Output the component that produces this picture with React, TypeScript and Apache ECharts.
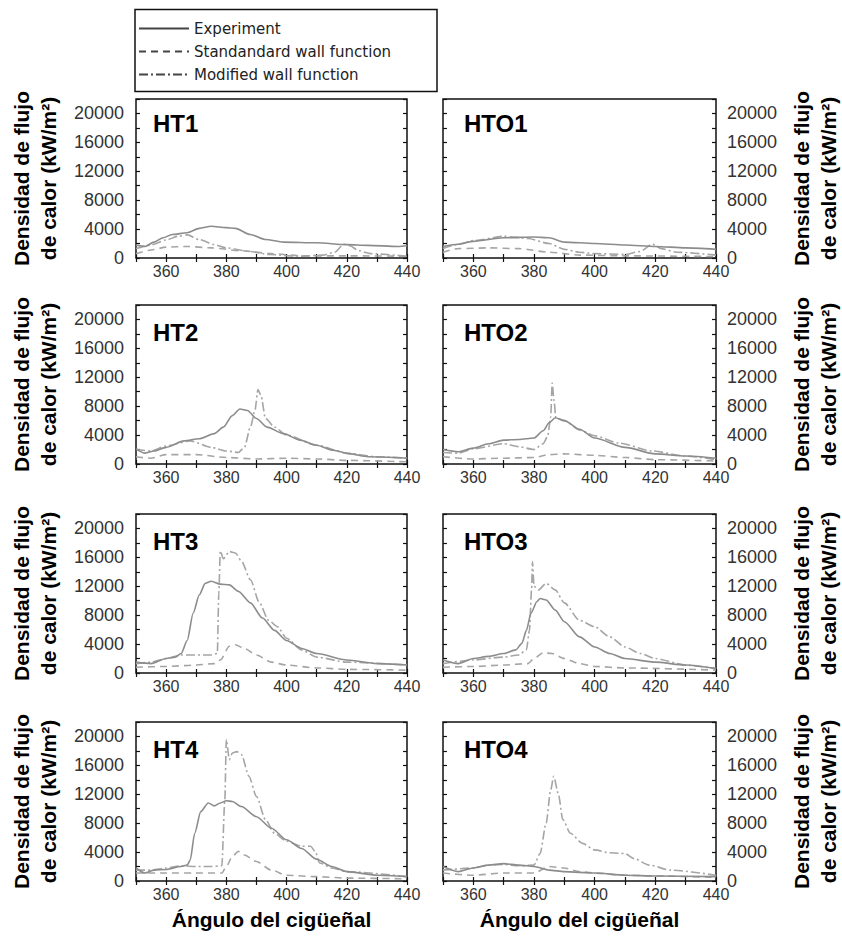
import React, { useEffect, useRef } from "react";
import * as echarts from "echarts";

type Pt = [number, number];

// ---- data ----
const SERIES_NAMES = ["Experiment", "Standandard wall function", "Modified wall function"];
const PANEL_NAMES = ["HT1", "HTO1", "HT2", "HTO2", "HT3", "HTO3", "HT4", "HTO4"];
const X_TICK_LABELS = [360, 380, 400, 420, 440];
const Y_TICK_LABELS = [0, 4000, 8000, 12000, 16000, 20000];
const Y_AXIS_TITLE = "Densidad de flujo\nde calor (kW/m²)";
const X_AXIS_TITLE = "Ángulo del cigüeñal";

const HT1_EXP: Pt[] = [[350,1800],[353,1600],[356,2200],[359,2800],[362,3250],[367,3500],[371,4100],[375,4400],[380,4200],[383,4100],[388,3250],[393,2550],[399,2200],[410,2100],[420,1850],[427,1750],[437,1600],[440,1700]];
const HT1_STD: Pt[] = [[350,600],[355,1100],[360,1500],[367,1600],[375,1400],[385,1000],[395,600],[405,300],[420,300],[440,250]];
const HT1_MOD: Pt[] = [[350,1300],[355,1800],[360,2500],[364,3000],[367,3200],[371,2550],[376,1850],[380,1400],[388,900],[394,500],[404,250],[412,400],[416,800],[419,1900],[421,1700],[424,1000],[428,600],[440,250]];

const HTO1_EXP: Pt[] = [[350,1600],[355,1900],[360,2300],[370,2800],[380,2900],[385,2800],[390,2200],[400,2000],[410,1800],[420,1600],[430,1400],[440,1200]];
const HTO1_STD: Pt[] = [[350,800],[355,1300],[365,1400],[375,1300],[385,800],[395,400],[410,300],[440,200]];
const HTO1_MOD: Pt[] = [[350,1300],[355,1900],[360,2400],[370,3000],[378,2700],[385,2000],[390,1200],[395,800],[400,600],[410,500],[415,900],[419,1900],[422,1300],[427,800],[440,400]];

const HT2_EXP: Pt[] = [[350,2100],[353,1500],[356,1800],[360,2300],[366,3200],[371,3500],[376,4200],[379,5100],[382,6700],[384.5,7600],[387,7400],[390,6300],[393.5,5100],[399,4200],[404.5,3300],[410,2600],[415.5,1900],[421,1400],[427,1000],[440,800]];
const HT2_STD: Pt[] = [[350,1000],[355,800],[360,1300],[370,1300],[380,900],[390,700],[400,800],[410,700],[420,500],[440,300]];
const HT2_MOD: Pt[] = [[350,2000],[355,1800],[360,2500],[368,3200],[375,2300],[380,1800],[384,1600],[386,2300],[388,5100],[389.5,7400],[390.5,10300],[391.5,9500],[393,6300],[396,5100],[400,4000],[410,2600],[420,1500],[430,1000],[440,800]];

const HTO2_EXP: Pt[] = [[350,2000],[355,1700],[360,2200],[365,2800],[370,3300],[375,3400],[380,3600],[383,4600],[385,5700],[387,6400],[390,6000],[395,4800],[400,3600],[410,2300],[420,1400],[430,1100],[440,800]];
const HTO2_STD: Pt[] = [[350,1000],[360,700],[370,800],[380,900],[385,1300],[390,1400],[400,1200],[410,900],[420,600],[440,400]];
const HTO2_MOD: Pt[] = [[350,1600],[355,1500],[360,2100],[370,2800],[375,2400],[380,2000],[383,2800],[384.5,3800],[385.5,6500],[386,11200],[386.6,8800],[387.2,6400],[390,6000],[395,4700],[400,3900],[408,2900],[419,1800],[430,1100],[440,600]];

const HT3_EXP: Pt[] = [[350,1500],[355,1300],[360,2000],[363,2200],[365,2700],[367,4500],[369,8300],[371,10800],[373,12400],[375,12700],[378,12300],[381,12200],[384,11300],[388,9700],[392,7600],[396,5900],[400,4500],[405,3400],[410,2700],[420,1800],[430,1300],[440,1100]];
const HT3_STD: Pt[] = [[350,800],[360,900],[370,1100],[376,1300],[378,1800],[381,3700],[383,3900],[386,3400],[390,2500],[395,1500],[400,1100],[410,700],[420,500],[440,400]];
const HT3_MOD: Pt[] = [[350,1300],[355,1500],[360,2000],[365,2500],[370,2500],[375,2500],[377,2700],[377.5,11000],[378,16900],[379,15800],[381,16800],[383,16600],[385,15500],[388,12900],[391,9700],[394,7300],[397,6400],[400,4800],[405,3200],[410,2200],[420,1500],[440,1100]];

const HTO3_EXP: Pt[] = [[350,1800],[355,1300],[360,2000],[365,2300],[370,2700],[374,3200],[376,4100],[377.5,5900],[379,8300],[381,9900],[382,10300],[384,10100],[387,8700],[390,7100],[395,5000],[400,3600],[405,2700],[410,2000],[420,1500],[430,1100],[440,600]];
const HTO3_STD: Pt[] = [[350,800],[360,900],[370,1100],[378,1300],[380,2000],[383,2800],[386,2700],[390,2000],[395,1300],[400,900],[410,700],[440,400]];
const HTO3_MOD: Pt[] = [[350,1300],[360,1800],[370,2200],[375,2500],[377.5,3200],[378.5,5900],[379.2,11500],[379.5,15400],[380,12000],[381.5,11500],[384,12400],[387,11500],[390,9700],[395,7300],[400,6400],[405,5000],[410,3600],[415,2700],[420,2000],[430,1100],[440,600]];

const HT4_EXP: Pt[] = [[350,1800],[353,1100],[356,1500],[360,1600],[365,2000],[367,2200],[368,2900],[369.5,6600],[371.5,9600],[374,10800],[376,10400],[378,10800],[380,11100],[382,11000],[385,10300],[390,8900],[395,7300],[400,5700],[405,4500],[410,3000],[415,2000],[420,1300],[430,800],[440,600]];
const HT4_STD: Pt[] = [[350,1100],[360,1100],[370,1100],[378.5,1100],[380,2000],[382,3400],[384,4100],[386,3600],[390,2700],[395,1500],[400,800],[410,600],[420,400],[440,300]];
const HT4_MOD: Pt[] = [[350,1500],[355,1500],[360,1800],[365,2100],[370,2000],[375,2000],[378.5,2100],[379.5,11200],[380,19600],[381,16800],[382,17700],[383.5,17900],[385,17500],[387.5,14500],[390,11700],[393,8500],[396,6600],[400,5500],[405,4800],[408,4800],[409.5,4100],[411,2500],[415,1800],[420,1300],[440,600]];

const HTO4_EXP: Pt[] = [[350,2000],[355,1300],[360,1800],[365,2200],[370,2400],[375,2200],[380,2000],[385,1500],[390,1300],[400,1100],[410,800],[420,700],[440,600]];
const HTO4_STD: Pt[] = [[350,1100],[360,800],[370,1100],[380,1100],[385,2000],[390,1800],[395,1300],[400,1100],[410,800],[420,700],[440,500]];
const HTO4_MOD: Pt[] = [[350,1500],[360,1800],[365,2200],[370,2300],[375,2100],[380,2200],[382,3800],[384,8000],[385.5,12600],[386.5,14500],[388,12100],[389.5,8500],[392,6600],[396,5200],[400,4300],[405,3900],[410,3800],[413,3100],[418,2200],[425,1500],[440,800]];

const PANEL_DATA: Pt[][][] = [
  [HT1_EXP, HT1_STD, HT1_MOD],
  [HTO1_EXP, HTO1_STD, HTO1_MOD],
  [HT2_EXP, HT2_STD, HT2_MOD],
  [HTO2_EXP, HTO2_STD, HTO2_MOD],
  [HT3_EXP, HT3_STD, HT3_MOD],
  [HTO3_EXP, HTO3_STD, HTO3_MOD],
  [HT4_EXP, HT4_STD, HT4_MOD],
  [HTO4_EXP, HTO4_STD, HTO4_MOD],
];

// ---- layout / style ----
const X_MIN = 350, X_MAX = 440, X_STEP = 10;
const Y_MIN = 0, Y_MAX = 22000, Y_STEP = 2000;
const COL_LEFT = [136, 443];
const COL_WIDTH = [271, 273];
const ROW_TOP = [99, 305, 514, 722];
const PLOT_H = 159;
const FONT = '"Liberation Sans", Arial, sans-serif';
const LINE_TYPES: any[] = ["solid", [7, 5], [9, 3, 2, 3]];
const LINE_COLORS = ["#8c8c8c", "#a5a5a5", "#a5a5a5"];

function buildOption() {
  const grid: any[] = [];
  const xAxis: any[] = [];
  const yAxis: any[] = [];
  const series: any[] = [];
  const graphic: any[] = [];

  PANEL_NAMES.forEach((name, i) => {
    const row = Math.floor(i / 2);
    const col = i % 2;
    const left = COL_LEFT[col];
    const width = COL_WIDTH[col];
    const top = ROW_TOP[row];
    grid.push({ left, top, width, height: PLOT_H, show: true, borderColor: "#111", borderWidth: 1.5, backgroundColor: "transparent" });

    const tick = { show: true, inside: true, length: 4, lineStyle: { color: "#111", width: 1.2 } };
    const xBase = { gridIndex: i, type: "value", min: X_MIN, max: X_MAX, interval: X_STEP, axisLine: { show: false }, axisTick: tick, splitLine: { show: false } };
    xAxis.push({
      ...xBase, position: "bottom",
      axisLabel: { show: true, interval: 0, margin: 5, fontFamily: FONT, fontSize: 16, color: "#333",
        formatter: (v: number) => (X_TICK_LABELS.includes(v) ? String(v) : "") },
    });
    xAxis.push({ ...xBase, position: "top", axisLabel: { show: false } });

    const yBase = { gridIndex: i, type: "value", min: Y_MIN, max: Y_MAX, interval: Y_STEP, axisLine: { show: false }, axisTick: tick, splitLine: { show: false } };
    const labelled = {
      ...yBase, position: col === 0 ? "left" : "right",
      axisLabel: { show: true, margin: col === 0 ? 12 : 11, fontFamily: FONT, fontSize: 18, color: "#333",
        formatter: (v: number) => (Y_TICK_LABELS.includes(v) ? String(v) : "") },
    };
    const plain = { ...yBase, position: col === 0 ? "right" : "left", axisLabel: { show: false } };
    yAxis.push(labelled, plain);

    PANEL_DATA[i].forEach((data, s) => {
      series.push({
        name: SERIES_NAMES[s], type: "line", xAxisIndex: 2 * i, yAxisIndex: 2 * i,
        data, symbol: "none", showSymbol: false, color: LINE_COLORS[s],
        smooth: 0.25, smoothMonotone: "x",
        lineStyle: { color: LINE_COLORS[s], width: 1.6, type: LINE_TYPES[s] },
        z: 3 - s,
      });
    });

    graphic.push({
      type: "text", x: left + (col === 0 ? 17 : 21), y: top + (row === 0 ? 12 : 15),
      style: { text: name, fontFamily: FONT, fontWeight: "bold", fontSize: 24, fill: "#000", align: "left", verticalAlign: "top" },
    });

    const cy = top + PLOT_H / 2;
    graphic.push({
      type: "text", x: col === 0 ? 35 : 815, y: cy, rotation: Math.PI / 2,
      style: { text: Y_AXIS_TITLE, fontFamily: FONT, fontWeight: "bold", fontSize: 21, lineHeight: 27, fill: "#000", align: "center", verticalAlign: "middle" },
    });
    if (row === 3) {
      graphic.push({
        type: "text", x: left + width / 2, y: 919,
        style: { text: X_AXIS_TITLE, fontFamily: FONT, fontWeight: "bold", fontSize: 21, fill: "#000", align: "center", verticalAlign: "middle" },
      });
    }
  });

  graphic.push({
    type: "rect", shape: { x: 135, y: 9.5, width: 302, height: 82 },
    style: { fill: "none", stroke: "#111", lineWidth: 1.5 },
  });

  return {
    animation: false,
    backgroundColor: "#fff",
    grid, xAxis, yAxis, series, graphic,
    legend: {
      data: SERIES_NAMES, orient: "vertical", left: 138, top: 21, padding: 0,
      itemWidth: 50, itemHeight: 14, itemGap: 8,
      textStyle: { fontFamily: '"DejaVu Sans", sans-serif', fontSize: 15, color: "#222" },
      itemStyle: { opacity: 0, borderWidth: 0 },
      lineStyle: { color: "#444", width: 2 },
      selectedMode: false,
    },
  };
}

export default function App() {
  const ref = useRef<HTMLDivElement>(null);
  useEffect(() => {
    if (!ref.current) return;
    const chart = echarts.init(ref.current, undefined, { renderer: "svg" });
    chart.setOption(buildOption() as any);
    return () => chart.dispose();
  }, []);
  return <div ref={ref} style={{ position: "absolute", left: 0, top: 0, width: 842, height: 936 }} />;
}
